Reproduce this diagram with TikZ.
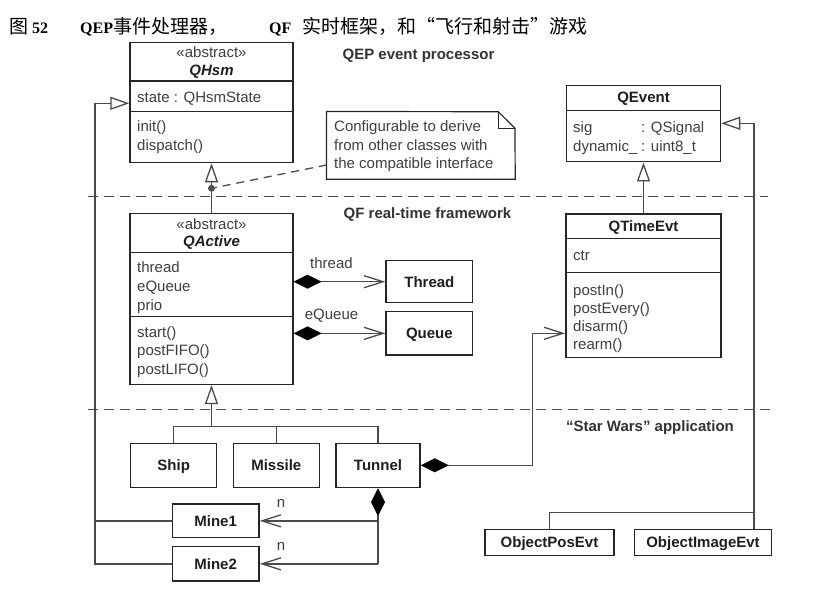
\documentclass[tikz,border=0pt]{standalone}
\usepackage{fontspec}
\usetikzlibrary{arrows.meta}
\newfontfamily\arialf{Liberation Sans}
\newfontfamily\serff{Liberation Serif}
\newfontfamily\cjkf{Noto Sans CJK SC}
\definecolor{boxc}{HTML}{262626}
\definecolor{linec}{HTML}{4A4A4A}
\definecolor{txtc}{HTML}{3E3E3E}
\definecolor{boldc}{HTML}{1E1E1E}
\begin{document}
\begin{tikzpicture}[x=1pt,y=-1pt,
  cls/.style={draw=boxc, line width=1.5pt, inner sep=0pt},
  t/.style={anchor=base west, inner sep=0pt, text=txtc, font=\arialf\fontsize{15}{18}\selectfont},
  tc/.style={anchor=base, inner sep=0pt, text=txtc, font=\arialf\fontsize{15}{18}\selectfont},
  b/.style={anchor=base, inner sep=0pt, text=boldc, font=\arialf\bfseries\fontsize{15}{18}\selectfont},
  bi/.style={anchor=base, inner sep=0pt, text=boldc, font=\arialf\bfseries\itshape\fontsize{15}{18}\selectfont},
  sect/.style={anchor=base, inner sep=0pt, text=txtc!80!black, font=\arialf\bfseries\fontsize{15}{18}\selectfont},
  ttl/.style={anchor=base west, inner sep=0pt, text=black, font=\serff\bfseries\fontsize{16}{19}\selectfont},
  compline/.style={draw=boxc, line width=1.1pt},
  conn/.style={draw=linec, line width=1.3pt},
  gen/.style={arrows={-Triangle[open, length=19pt, width=13pt]}},
  cmp/.style={arrows={Diamond[length=28pt, width=14pt, color=black]-Straight Barb[length=19pt, width=12pt]}},
  cmponly/.style={arrows={Diamond[length=28pt, width=14pt, color=black]-}},
  nav/.style={arrows={-Straight Barb[length=19pt, width=12pt]}},
  sepl/.style={draw=linec, line width=1.3pt, dash pattern=on 10pt off 6pt},
  notel/.style={draw=linec, line width=1.3pt, dash pattern=on 8pt off 6pt},
  pinst/.style={circle, fill=gray!60!black, draw=linec, line width=0.8pt, inner sep=0pt, minimum size=6pt}
]
\useasboundingbox (0,0) rectangle (827,600);

% ---------- title ----------
\node[ttl] (t1) at (9,33.2) {{\cjkf\fontsize{19}{21}\selectfont\mdseries 图} 52};
\node[ttl] (t2) at (80,33.2) {QEP{\cjkf\fontsize{19}{21}\selectfont\mdseries 事件处理器，}};
\node[ttl] (t3) at (269,33.2) {QF\hspace{11pt}{\cjkf\fontsize{19}{21}\selectfont\mdseries 实时框架，和“飞行和射击”游戏}};

% ---------- section separators and labels ----------
\draw[sepl] (88,196.7) -- (768,196.7);
\draw[sepl] (88,409.7) -- (771.5,409.7);
\node[sect] (s1) at (418.5,59.3) {QEP event processor};
\node[sect] (s2) at (427.5,218) {QF real-time framework};
\node[sect] (s3) at (650,431.3) {“Star Wars” application};

% ---------- class boxes ----------
\node[cls, minimum width=163pt, minimum height=119.8pt] (qhsm) at (211.5,102.6) {};
\node[cls, minimum width=162.6pt, minimum height=170.8pt] (qactive) at (211.5,298.9) {};
\node[cls, minimum width=154pt, minimum height=76pt] (qevent) at (643.5,123.7) {};
\node[cls, minimum width=155pt, minimum height=143.5pt] (qtimeevt) at (643.5,285.75) {};
\node[cls, minimum width=86.7pt, minimum height=42pt] (thread) at (429.35,281.7) {};
\node[cls, minimum width=86.7pt, minimum height=43.3pt] (queue) at (429.35,333.35) {};
\node[cls, minimum width=86pt, minimum height=44pt] (ship) at (173.7,465.3) {};
\node[cls, minimum width=86pt, minimum height=44pt] (missile) at (276.3,465.3) {};
\node[cls, minimum width=84pt, minimum height=44pt] (tunnel) at (378,465.3) {};
\node[cls, minimum width=86.7pt, minimum height=33.7pt] (mine1) at (215.65,520.85) {};
\node[cls, minimum width=86.7pt, minimum height=34.3pt] (mine2) at (215.65,563.85) {};
\node[cls, minimum width=129pt, minimum height=26.4pt] (objpos) at (549.5,542.5) {};
\node[cls, minimum width=137.4pt, minimum height=26.4pt] (objimg) at (703,542.5) {};

% compartment lines
\draw[compline] (qhsm.west |- 0,81) -- (qhsm.east |- 0,81);
\draw[compline] (qhsm.west |- 0,111.7) -- (qhsm.east |- 0,111.7);
\draw[compline] (qactive.west |- 0,252.7) -- (qactive.east |- 0,252.7);
\draw[compline] (qactive.west |- 0,316.7) -- (qactive.east |- 0,316.7);
\draw[compline] (qevent.west |- 0,110.7) -- (qevent.east |- 0,110.7);
\draw[compline] (qtimeevt.west |- 0,238.3) -- (qtimeevt.east |- 0,238.3);
\draw[compline] (qtimeevt.west |- 0,272.7) -- (qtimeevt.east |- 0,272.7);

% QHsm texts
\node[tc] (qhsmst) at (211.5,57.5) {«abstract»};
\node[bi] (qhsmn) at (211.5,75.2) {QHsm};
\node[t] (qhsma) at (137,102.5) {state : QHsmState};
\node[t] (qhsmo1) at (137,131.9) {init()};
\node[t] (qhsmo2) at (137,150.2) {dispatch()};

% QActive texts
\node[tc] (qactst) at (211.5,229.2) {«abstract»};
\node[bi] (qactn) at (211.5,246.2) {QActive};
\node[t] (qacta1) at (137,272.9) {thread};
\node[t] (qacta2) at (137,291.6) {eQueue};
\node[t] (qacta3) at (137,310.0) {prio};
\node[t] (qacto1) at (137,337.5) {start()};
\node[t] (qacto2) at (137,355.9) {postFIFO()};
\node[t] (qacto3) at (137,374.2) {postLIFO()};

% QEvent texts
\node[b] (qevn) at (643.5,102.5) {QEvent};
\node[t] (qeva1) at (573,132.5) {sig};
\node[t] (qeva1t) at (641,132.5) {: QSignal};
\node[t] (qeva2) at (573,151.2) {dynamic\_};
\node[t] (qeva2t) at (641,151.2) {: uint8\_t};

% QTimeEvt texts
\node[b] (qten) at (643.5,231.9) {QTimeEvt};
\node[t] (qtea) at (573,260.9) {ctr};
\node[t] (qteo1) at (573,295.2) {postIn()};
\node[t] (qteo2) at (573,313.5) {postEvery()};
\node[t] (qteo3) at (573,331.9) {disarm()};
\node[t] (qteo4) at (573,349.6) {rearm()};

% simple class names
\node[b] (threadn) at (429.35,287) {Thread};
\node[b] (queuen) at (429.35,338.6) {Queue};
\node[b] (shipn) at (173.7,470.6) {Ship};
\node[b] (missilen) at (276.3,470.6) {Missile};
\node[b] (tunneln) at (378,470.6) {Tunnel};
\node[b] (mine1n) at (215.65,526.2) {Mine1};
\node[b] (mine2n) at (215.65,569.2) {Mine2};
\node[b] (objposn) at (549.5,547.8) {ObjectPosEvt};
\node[b] (objimgn) at (703,547.8) {ObjectImageEvt};

% ---------- note ----------
\node[minimum width=188.3pt, minimum height=67.3pt, inner sep=0pt] (note) at (420.85,145.35) {};
\draw[draw=boxc, line width=1.2pt] (note.south west) -- (note.north west) -- (498.3,111.7) -- (515,128.3) -- (note.south east) -- cycle;
\draw[draw=boxc, line width=1.1pt] (498.3,111.7) -- (498.3,128.3) -- (515,128.3);
\node[t] (nt1) at (334,131.9) {Configurable to derive};
\node[t] (nt2) at (334,150.2) {from other classes with};
\node[t] (nt3) at (334,168.4) {the compatible interface};

% ---------- connectors ----------
% QActive -> QHsm
\draw[conn, gen] (qactive.north) -- (qhsm.south);
\node[pinst] (pin) at (211.5,188.3) {};
\draw[notel] (note.west |- 0,165) -- (pin);

% compositions QActive -> Thread / Queue
\draw[conn, cmp] (qactive.east |- thread.west) -- (thread.west);
\draw[conn, cmp] (qactive.east |- queue.west) -- (queue.west);
\node[tc] (lthread) at (331.5,268.6) {thread};
\node[tc] (lqueue) at (331.5,319.6) {eQueue};

% QTimeEvt -> QEvent
\draw[conn, gen] (qtimeevt.north) -- (qevent.south);

% Ship, Missile, Tunnel -> QActive
\coordinate (tree) at (211.5,426.7);
\draw[conn, gen] (tree) -- (qactive.south);
\draw[conn] (ship.north) -- (ship.north |- tree) -- (tunnel.north |- tree) -- (tunnel.north);
\draw[conn] (missile.north) -- (missile.north |- tree);

% Tunnel -> QTimeEvt
\draw[conn, cmp] (tunnel.east) -| (532.5,333.3) -- (qtimeevt.west |- 0,333.3);

% Tunnel -> Mine1, Mine2
\draw[conn, cmponly] (tunnel.south) -- (tunnel.south |- mine2.east);
\draw[conn, nav] (tunnel.south |- mine1.east) -- (mine1.east);
\draw[conn, nav] (tunnel.south |- mine2.east) -- (mine2.east);
\node[tc] (ln1) at (281,507.5) {n};
\node[tc] (ln2) at (281,550.2) {n};

% Mine1, Mine2 -> QHsm
\draw[conn, gen] (mine2.west) -| (95,103.3) -- (qhsm.west |- 0,103.3);
\draw[conn] (mine1.west) -- (mine1.west -| 95,0);

% ObjectPosEvt, ObjectImageEvt -> QEvent
\draw[conn, gen] (objimg.north -| 754,0) -- (754,123.3) -- (qevent.east |- 0,123.3);
\draw[conn] (objpos.north) |- (754,512.3);
\end{tikzpicture}
\end{document}
